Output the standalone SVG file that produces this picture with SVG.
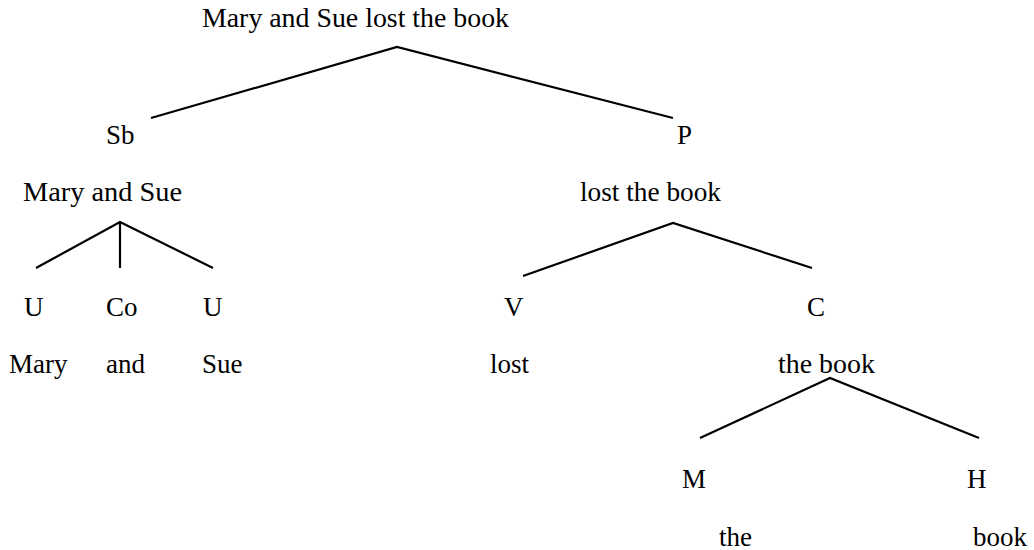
<svg xmlns="http://www.w3.org/2000/svg" width="1034" height="550" viewBox="0 0 1034 550">
<style>
.e{stroke:#000;stroke-width:2.2;fill:none;stroke-linecap:butt}
.t{font-family:'Liberation Serif','DejaVu Serif',serif;font-size:27px;fill:#000}
</style>
<rect width="1034" height="550" fill="#fff"/>
<g id="connectors">
<polyline class="e" points="151,118 397,47 673,118"/>
<polyline class="e" points="36,268 120,222 213,268"/>
<line class="e" x1="120" y1="222" x2="120" y2="268"/>
<polyline class="e" points="523,276 673,223 812,268"/>
<polyline class="e" points="700,438 830,378 979,438"/>
</g>
<g class="t">
<g id="root"><text x="202" y="27" textLength="307" lengthAdjust="spacingAndGlyphs">Mary and Sue lost the book</text></g>
<g id="sb"><text x="106" y="144">Sb</text><text x="23" y="201" textLength="159" lengthAdjust="spacingAndGlyphs">Mary and Sue</text></g>
<g id="p"><text x="677" y="144">P</text><text x="580" y="201" textLength="141" lengthAdjust="spacingAndGlyphs">lost the book</text></g>
<g id="u1"><text x="24" y="316">U</text><text x="9" y="373">Mary</text></g>
<g id="co"><text x="106" y="316">Co</text><text x="106" y="373">and</text></g>
<g id="u2"><text x="203" y="316">U</text><text x="202" y="373">Sue</text></g>
<g id="v"><text x="504" y="316">V</text><text x="490" y="373">lost</text></g>
<g id="c"><text x="807" y="316">C</text><text x="778" y="373" textLength="97" lengthAdjust="spacingAndGlyphs">the book</text></g>
<g id="m"><text x="682" y="488">M</text><text x="719" y="546">the</text></g>
<g id="h"><text x="967" y="488">H</text><text x="973" y="546">book</text></g>
</g>
</svg>
